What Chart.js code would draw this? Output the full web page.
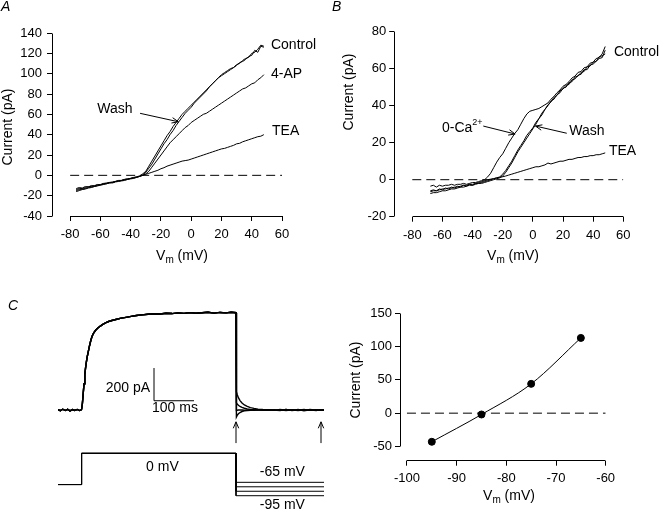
<!DOCTYPE html>
<html>
<head>
<meta charset="utf-8">
<title>K+ current I-V relations</title>
<script src="https://cdn.jsdelivr.net/npm/chart.js@4.4.1/dist/chart.umd.min.js"></script>
<style>
  body { margin: 0; background: #fff; }
  #wrap { position: relative; width: 661px; height: 511px; }
  #wrap canvas { position: absolute; left: 0; top: 0; }
</style>
</head>
<body>
<div id="wrap">
  <canvas id="panelA" width="661" height="511"></canvas>
  <canvas id="panelB" width="661" height="511"></canvas>
  <canvas id="panelCtrace" width="661" height="511"></canvas>
  <canvas id="panelCiv" width="661" height="511"></canvas>
</div>
<script>
const FONT = '"Liberation Sans", Arial, Helvetica, sans-serif';

// Panel A: ramp I-V, control / wash / 4-AP / TEA (mV, pA)
const vA = [-76, -74, -72, -70, -68, -66, -64, -62, -60, -58, -56, -54, -52, -50, -48, -46, -44, -42, -40, -38, -36, -34, -32,
  -30, -28, -26, -24, -22, -20, -18, -16, -14, -12, -10, -8, -6, -4, -2,
  0, 2, 4, 6, 8, 10, 12, 14, 16, 18, 20, 22, 24, 26, 28, 30, 32, 34, 36, 38, 40, 42, 44, 46, 48];
const controlA = [-13, -12, -12.5, -11, -11.5, -10, -10.5, -9, -9.5, -8, -8.5, -7, -7.5, -6.5, -6, -5.5, -5, -4, -3.5, -3, -2, -1, 0.5,
  3, 7, 11, 16, 21, 26, 31, 35, 40, 44, 49, 53, 57, 61, 64,
  67, 71, 74, 77, 80, 83, 87, 90, 93, 96, 98, 100, 102, 104, 106, 108, 111, 112, 114, 117, 118, 123, 121, 127, 126];
const washA = [-15, -14, -13.5, -13, -12, -11.5, -11, -10, -9.5, -9, -8, -7.5, -7, -6, -5.5, -5, -4.5, -4, -3, -2.5, -1.5, -0.5, 1.5,
  4, 9, 14, 19, 24, 29, 34, 39, 43, 48, 52, 56, 60, 63, 66,
  69, 72, 75, 78, 81, 84, 87, 90, 93, 96, 99, 101, 103, 105, 106, 109, 110, 113, 115, 116, 120, 121, 124, 128, 127];
const apA = [-14, -13, -13, -12, -11, -11, -10, -9.5, -9, -8, -7.5, -7, -6.5, -6, -5, -5, -4, -3.5, -3, -2.5, -2, -1, 0,
  1.5, 4, 8, 12, 16, 20, 24, 28, 32, 35, 38, 41, 44, 47, 49,
  52, 54, 56, 58, 60, 61, 63, 65, 67, 69, 71, 73, 75, 77, 79, 81, 83, 85, 86, 88, 90, 91, 94, 96, 99];
const teaA = [-16, -15, -14, -13.5, -12.5, -12, -11, -10.5, -9.5, -9, -8, -7.5, -7, -6, -5.5, -5, -4, -3.5, -3, -2, -1.5, -1, 0,
  1, 2, 3, 4, 5, 6.5, 7.5, 9, 10, 11, 12, 13, 14, 14.5, 15,
  16, 17, 18, 19, 20, 21, 22, 23, 24, 25, 26, 26.5, 27.5, 28.5, 29.5, 31, 31.5, 33, 34, 35, 36, 37, 38, 38.5, 40];
const xTicksIV = [-80, -60, -40, -20, 0, 20, 40, 60];
const yTicksA = [-40, -20, 0, 20, 40, 60, 80, 100, 120, 140];

// Panel B: ramp I-V, control / 0-Ca2+ / wash / TEA
const vB = [-68, -66, -64, -62, -60, -58, -56, -54, -52, -50, -48, -46, -44, -42, -40, -38, -36, -34, -32,
  -30, -28, -26, -24, -22, -20, -18, -16, -14, -12, -10, -8, -6, -4, -2,
  0, 2, 4, 6, 8, 10, 12, 14, 16, 18, 20, 22, 24, 26, 28, 30, 32, 34, 36, 38, 40, 42, 44, 46, 48];
const controlB = [-6, -5.5, -6, -5, -5.5, -4.5, -5, -4, -4.5, -3.5, -4, -3, -3.5, -2.5, -3, -2, -2, -1.5, -1,
  -0.5, 0, 0.5, 1, 1.5, 3, 5, 7.5, 10, 13, 16, 18.5, 21, 24, 26,
  28, 31, 33, 36, 38, 40.5, 42, 44.5, 45.5, 48, 49, 51, 51.5, 54, 54.5, 56.5, 57, 59.5, 59.5, 62, 62.5, 64, 65.5, 66, 70];
const washB = [-7.5, -7, -7, -6.5, -6, -6, -5.5, -5, -5, -4.5, -4, -4, -3.5, -3, -3, -2.5, -2, -2, -1.5,
  -1, -0.5, 0, 0.5, 1, 2, 4, 6.5, 9, 12, 15, 17.5, 20, 22.5, 25,
  27.5, 30, 33, 35, 38, 40, 42.5, 43.5, 46, 47, 49.5, 50, 52.5, 53, 55.5, 56, 58, 58.5, 61, 61.5, 63.5, 64, 66.5, 67, 68];
const zeroCaB = [-3.5, -3, -4, -3, -3.5, -3, -3, -2.5, -3, -2.5, -2.5, -2, -2.5, -2, -1.5, -1.5, -1, -0.5, 0,
  1.5, 3.5, 6.5, 9.5, 12, 14, 17, 20, 22.5, 25, 27, 30, 33, 35.5, 37,
  37.5, 38, 38.5, 39.5, 40.5, 41.5, 43.5, 45, 47, 48.5, 50.5, 51.5, 53, 55, 56, 58, 58.5, 60.5, 61, 63, 63.5, 65.5, 66, 68, 72];
const teaB = [-6.5, -6, -6, -5.5, -5, -5, -4.5, -4.5, -4, -4, -3.5, -3, -3, -2.5, -2.5, -2, -1.5, -1, -0.5,
  0, 0.3, 0.6, 1, 1.3, 1.6, 2, 2.5, 3, 3.5, 4, 4.5, 5, 5.5, 6,
  6.5, 7, 7, 7.5, 8, 9, 8.5, 9, 9.5, 10, 10, 10.5, 11, 11, 11.5, 12, 12, 12.5, 12.5, 13, 13, 13.5, 13.5, 14, 14.5];
const yTicksB = [-20, 0, 20, 40, 60, 80];

// Panel C left: current traces (ms, pA) and voltage protocol (mV)
const tCur = [0, 6, 12, 18, 24, 30, 36, 42, 48, 54, 57, 59, 61, 63, 65, 67, 69, 71, 73,
  76, 79, 82, 85, 89, 94, 99, 105, 112, 120, 128, 137, 147, 158, 170, 183, 196,
  210, 225, 240, 255, 270, 285, 300, 315, 330, 345, 360, 375, 390, 405, 420, 433, 445];
const iCur = [2, -4, 5, -3, 4, -5, 3, -2, 4, -3, 0, 5, 40, 100, 160, 215, 260, 295, 325,
  360, 395, 425, 450, 470, 488, 500, 512, 524, 535, 543, 549, 555, 562, 567, 573, 578,
  582, 586, 589, 587, 592, 590, 594, 591, 596, 592, 595, 598, 593, 597, 594, 598, 595];
const tTail = [446, 448, 451, 455, 460, 466, 473, 481, 490, 500, 512, 525, 540, 555, 570, 585, 600, 615, 630, 645, 657, 665];
const tail65 = [113, 95, 76, 58, 43, 31, 22, 15, 10, 6, 3, 1, 0, -3, 4, -2, 3, -4, 2, -3, 2, 0];
const tail75 = [44, 37, 29, 22, 16, 11, 7, 4, 2, 1, 0, -1, 2, -2, 3, -3, 1, -2, 3, -1, 2, 0];
const tail85 = [-2, -1, 0, 1, 0, -1, 1, 0, -1, 1, 0, 2, -2, 1, -3, 2, -1, 3, -2, 1, -1, 0];
const tail95 = [-43, -33, -23, -15, -9, -5, -3, -1, 0, 1, -1, 2, -2, 3, -1, 2, -3, 1, -2, 2, -1, 0];
const protocolMs = [0, 59, 445, 665];
const holdMV = -70;
const stepMV = 0;
const tailMV = [-65, -75, -85, -95];

// Panel C right: tail current vs tail potential
const tailVm = [-95, -85, -75, -65];
const tailPeak = [-43, -2, 44, 113];
const xTicksC = [-100, -90, -80, -70, -60];
const yTicksC = [-50, 0, 50, 100, 150];

const pairs = (xs, ys) => xs.map((x, i) => ({ x: x, y: ys[i] }));

function trace(data, extra) {
  return Object.assign({
    data: data, showLine: true, borderColor: "#000", borderWidth: 1,
    pointRadius: 0, fill: false, tension: 0
  }, extra || {});
}

function zeroLine(from, to) {
  return trace(pairs([from, to], [0, 0]), { borderDash: [9, 5] });
}

// linear axis with ticks only where the reference has them; axis line drawn by annotate()
function axis(min, max, ticks, size, horizontal, pad) {
  return {
    type: "linear", min: min, max: max,
    afterBuildTicks: s => { s.ticks = ticks.map(v => ({ value: v })); },
    afterFit: s => { if (horizontal) s.height = size; else s.width = size; },
    grid: { display: true, drawOnChartArea: false, drawTicks: true, tickLength: 5, color: "#000", lineWidth: 1 },
    border: { display: false },
    ticks: { color: "#000", font: { family: FONT, size: 13 }, padding: pad, maxRotation: 0, autoSkip: false }
  };
}

function alignPx(v) { return Math.round(v - 0.5) + 0.5; }

function drawNote(ctx, n, x, y) {
  const parts = n.parts || [{ t: n.text }];
  const base = n.size || 14;
  const fontFor = p => (n.italic ? "italic " : "") + (p.size || base) + "px " + FONT;
  let w = 0;
  parts.forEach(p => { ctx.font = fontFor(p); w += ctx.measureText(p.t).width; });
  ctx.save();
  ctx.translate(x, y);
  if (n.rotate) ctx.rotate(n.rotate * Math.PI / 180);
  let cx = n.align === "center" ? -w / 2 : n.align === "right" ? -w : 0;
  ctx.textBaseline = "middle";
  ctx.textAlign = "left";
  ctx.fillStyle = "#000";
  parts.forEach(p => {
    ctx.font = fontFor(p);
    ctx.fillText(p.t, cx, p.dy || 0);
    cx += ctx.measureText(p.t).width;
  });
  ctx.restore();
}

function drawArrow(ctx, x1, y1, x2, y2) {
  const a = Math.atan2(y2 - y1, x2 - x1);
  const h = 7;
  ctx.beginPath();
  ctx.moveTo(x1, y1);
  ctx.lineTo(x2, y2);
  ctx.moveTo(x2 - h * Math.cos(a - 0.4), y2 - h * Math.sin(a - 0.4));
  ctx.lineTo(x2, y2);
  ctx.lineTo(x2 - h * Math.cos(a + 0.4), y2 - h * Math.sin(a + 0.4));
  ctx.stroke();
}

// per-chart plugin: detached axis lines, labels, arrows, scale bars
function annotate(spec) {
  return {
    id: "annotate",
    afterDraw(chart) {
      const ctx = chart.ctx;
      const ca = chart.chartArea;
      const toPx = p => p.data
        ? [chart.scales.x.getPixelForValue(p.x), chart.scales[p.axis || "y"].getPixelForValue(p.y)]
        : [p.x, p.y];
      ctx.save();
      ctx.strokeStyle = "#000";
      ctx.lineWidth = 1;
      if (spec.axes) {
        const xs = chart.scales.x, ys = chart.scales.y;
        const xt = xs.ticks, yt = ys.ticks;
        const bx = alignPx(ca.bottom), lx = alignPx(ca.left);
        ctx.beginPath();
        ctx.moveTo(alignPx(xs.getPixelForValue(xt[0].value)), bx);
        ctx.lineTo(alignPx(xs.getPixelForValue(xt[xt.length - 1].value)), bx);
        ctx.moveTo(lx, alignPx(ys.getPixelForValue(yt[0].value)));
        ctx.lineTo(lx, alignPx(ys.getPixelForValue(yt[yt.length - 1].value)));
        ctx.stroke();
      }
      (spec.lines || []).forEach(l => {
        const a = toPx({ data: true, x: l.x1, y: l.y1, axis: l.axis });
        const b = toPx({ data: true, x: l.x2, y: l.y2, axis: l.axis });
        ctx.beginPath();
        ctx.moveTo(a[0], a[1]);
        ctx.lineTo(b[0], b[1]);
        ctx.stroke();
      });
      (spec.arrows || []).forEach(r => {
        const a = toPx({ data: true, x: r.x1, y: r.y1, axis: r.axis });
        const b = toPx({ data: true, x: r.x2, y: r.y2, axis: r.axis });
        drawArrow(ctx, a[0], a[1], b[0], b[1]);
      });
      (spec.notes || []).forEach(n => {
        const p = toPx(n);
        drawNote(ctx, n, p[0], p[1]);
      });
      ctx.restore();
    }
  };
}

const vmTitle = [{ t: "V" }, { t: "m", size: 10, dy: 4 }, { t: " (mV)" }];

function baseOptions(box, scales) {
  return {
    responsive: false,
    animation: false,
    events: [],
    layout: { padding: { left: 0, top: box.top, right: 661 - box.right, bottom: 0 } },
    plugins: { legend: { display: false }, tooltip: { enabled: false } },
    scales: scales
  };
}

// ---- Panel A ----
new Chart(document.getElementById("panelA"), {
  type: "scatter",
  data: {
    datasets: [
      zeroLine(-80, 60),
      trace(pairs(vA, teaA)),
      trace(pairs(vA, apA)),
      trace(pairs(vA, washA)),
      trace(pairs(vA, controlA))
    ]
  },
  options: baseOptions({ top: 33, right: 282 }, {
    x: axis(-92, 60, xTicksIV, 511 - 216, true, 6),
    y: axis(-40, 140, yTicksA, 52, false, 5)
  }),
  plugins: [annotate({
    axes: true,
    arrows: [{ x1: -33.8, y1: 61, x2: -8.5, y2: 52.7 }],
    notes: [
      { text: "A", x: 1, y: 7, italic: true },
      { text: "Current (pA)", x: 8, y: 127, rotate: -90, align: "center" },
      { parts: vmTitle, x: 182, y: 256, align: "center" },
      { text: "Control", data: true, x: 52.7, y: 128 },
      { text: "4-AP", data: true, x: 52.7, y: 99.8 },
      { text: "TEA", data: true, x: 53.4, y: 43.3 },
      { text: "Wash", data: true, x: -62.1, y: 65.4 }
    ]
  })]
});

// ---- Panel B ----
new Chart(document.getElementById("panelB"), {
  type: "scatter",
  data: {
    datasets: [
      zeroLine(-80, 60),
      trace(pairs(vB, teaB)),
      trace(pairs(vB, zeroCaB)),
      trace(pairs(vB, washB)),
      trace(pairs(vB, controlB))
    ]
  },
  options: baseOptions({ top: 31.7, right: 623.3 }, {
    x: axis(-92, 60, xTicksIV, 511 - 216.7, true, 6),
    y: axis(-20, 80, yTicksB, 394.2, false, 3)
  }),
  plugins: [annotate({
    axes: true,
    arrows: [
      { x1: 22.5, y1: 25.1, x2: 1.75, y2: 29 },
      { x1: -32.9, y1: 29, x2: -11.8, y2: 24.7 }
    ],
    notes: [
      { text: "B", x: 332, y: 7.5, italic: true },
      { text: "Current (pA)", x: 349, y: 92, rotate: -90, align: "center" },
      { parts: vmTitle, x: 513, y: 256, align: "center" },
      { text: "Control", data: true, x: 53.8, y: 69.2 },
      { text: "TEA", data: true, x: 50.5, y: 15.5 },
      { text: "Wash", data: true, x: 24.2, y: 26.3 },
      { parts: [{ t: "0-Ca" }, { t: "2+", size: 9, dy: -6 }], data: true, x: -60.3, y: 27.9 }
    ]
  })]
});

// ---- Panel C, traces ----
const protoX = [protocolMs[0], protocolMs[1], protocolMs[1], protocolMs[2], protocolMs[2], protocolMs[3]];
const curDatasets = [tail95, tail85, tail75, tail65].map(tl =>
  trace(pairs(tCur.concat(tTail), iCur.concat(tl)), { borderWidth: 1.4 }));
const protoDatasets = tailMV.map(v =>
  trace(pairs(protoX, [holdMV, holdMV, stepMV, stepMV, v, v]), { yAxisID: "yV" }));

new Chart(document.getElementById("panelCtrace"), {
  type: "scatter",
  data: { datasets: curDatasets.concat(protoDatasets) },
  options: {
    responsive: false,
    animation: false,
    events: [],
    layout: { padding: { left: 58, top: 300, right: 661 - 324, bottom: 11 } },
    plugins: { legend: { display: false }, tooltip: { enabled: false } },
    scales: {
      x: { type: "linear", min: 0, max: 665, display: false },
      y: { type: "linear", min: -550, max: 673, display: false },
      yV: { type: "linear", min: -104.6, max: 343.5, display: false }
    }
  },
  plugins: [annotate({
    lines: [
      { x1: 240, y1: 57, x2: 240, y2: 257 },
      { x1: 240, y1: 57, x2: 340, y2: 57 }
    ],
    arrows: [
      { x1: 445, y1: -202, x2: 445, y2: -72 },
      { x1: 657.5, y1: -202, x2: 657.5, y2: -72 }
    ],
    notes: [
      { text: "C", x: 8, y: 306, italic: true },
      { text: "200 pA", data: true, x: 230, y: 134.5, align: "right" },
      { text: "100 ms", data: true, x: 292.5, y: 9, align: "center" },
      { text: "0 mV", data: true, x: 261, y: -30, axis: "yV", align: "center" },
      { text: "-65 mV", data: true, x: 561, y: -41.2, axis: "yV", align: "center" },
      { text: "-95 mV", data: true, x: 561, y: -115.8, axis: "yV", align: "center" }
    ]
  })]
});

// ---- Panel C, tail I-V ----
new Chart(document.getElementById("panelCiv"), {
  type: "scatter",
  data: {
    datasets: [
      zeroLine(-100, -60),
      trace(pairs(tailVm, tailPeak), {
        pointRadius: 3.5, pointBackgroundColor: "#000", pointBorderColor: "#000",
        tension: 0.25, cubicInterpolationMode: "monotone"
      })
    ]
  },
  options: baseOptions({ top: 313.3, right: 605.7 }, {
    x: axis(-101.4, -60, xTicksC, 511 - 460.7, true, 5),
    y: axis(-71.4, 150, yTicksC, 400, false, 3)
  }),
  plugins: [annotate({
    axes: true,
    notes: [
      { text: "Current (pA)", x: 356, y: 380, rotate: -90, align: "center" },
      { parts: vmTitle, x: 509, y: 496, align: "center" }
    ]
  })]
});
</script>
</body>
</html>
